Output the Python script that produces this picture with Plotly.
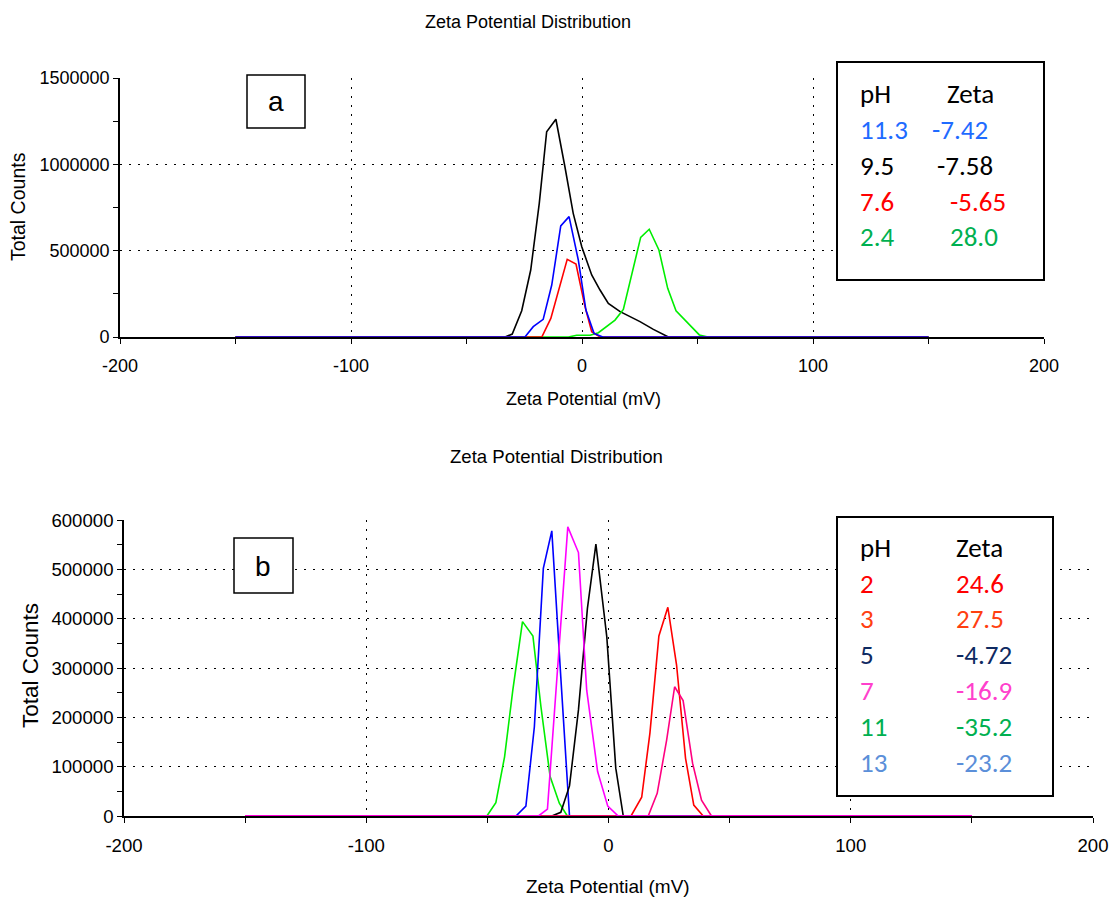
import plotly.graph_objects as go

# ---------------- data: panel a ----------------
a_black_x = [-150, -33.3, -30.2, -26.1, -22.2, -18.5, -15.3, -11.3, -7.4, -3.8, -0.1, 4.2, 7.8, 11.4, 16.5, 25.1, 30.9, 37.4, 150]
a_black_y = [0, 0, 17000, 152000, 388000, 774000, 1189000, 1261000, 986000, 716000, 523000, 359000, 272000, 195000, 147000, 89000, 44000, 0, 0]

a_blue_x = [-150, -24.7, -21.1, -16.8, -13.1, -9.2, -5.6, -1.6, 1.7, 5.2, 9.0, 150]
a_blue_y = [0, 0, 60000, 102000, 301000, 643000, 697000, 446000, 156000, 21000, 0, 0]

a_red_x = [-150, -17.4, -13.5, -6.4, -2.6, 1.3, 4.2, 7.8, 150]
a_red_y = [0, 0, 108000, 450000, 423000, 176000, 31000, 0, 0]

a_green_x = [-150, -5.9, -2.3, 3.5, 7.1, 14.3, 17.9, 25.4, 29.1, 33.3, 37.1, 40.7, 50.8, 54.5, 150]
a_green_y = [0, 0, 10000, 10000, 25000, 98000, 160000, 577000, 624000, 504000, 282000, 152000, 12000, 0, 0]

a_ph = ["11.3", "9.5", "7.6", "2.4"]
a_zeta = ["-7.42", "-7.58", "-5.65", "28.0"]

# ---------------- data: panel b ----------------
b_green_x = [-150, -50.2, -46.5, -42.9, -39.5, -35.5, -31.2, -27.9, -24.1, -20.3, -17.0, 150]
b_green_y = [0, 0, 27000, 120000, 255000, 394000, 365000, 222000, 80000, 26000, 0, 0]

b_blue_x = [-150, -38.2, -34.1, -30.6, -26.9, -23.4, -19.7, -16.1, 150]
b_blue_y = [0, 0, 20000, 181000, 502000, 578000, 282000, 0, 0]

b_black_x = [-150, -23.4, -19.7, -16.1, -12.4, -8.7, -5.2, -0.7, 3.0, 6.1, 150]
b_black_y = [0, 0, 7500, 61000, 215000, 421000, 551000, 363000, 97000, 0, 0]

b_red_x = [-150, 9.3, 13.7, 17.1, 20.8, 24.5, 28.1, 31.8, 35.2, 39.1, 150]
b_red_y = [0, 0, 38000, 168000, 365000, 423000, 306000, 117000, 22000, 0, 0]

b_pink_x = [-150, 16.4, 20.1, 24.0, 27.3, 30.8, 34.7, 38.4, 42.5, 150]
b_pink_y = [0, 0, 46000, 154000, 262000, 234000, 107000, 32000, 0, 0]

b_magenta_x = [-150, -28.9, -25.2, -21.1, -16.8, -12.4, -9.0, -4.5, -0.3, 4.0, 150]
b_magenta_y = [0, 0, 14000, 296000, 586000, 534000, 255000, 90000, 20000, 0, 0]

b_ph = ["2", "3", "5", "7", "11", "13"]
b_zeta = ["24.6", "27.5", "-4.72", "-16.9", "-35.2", "-23.2"]

x_tickvals = [-200, -100, 0, 100, 200]
x_ticktext = ["-200", "-100", "0", "100", "200"]

# ---------------- styling ----------------
W, H = 1111, 898
def fx(px):
    return px / W
def fy(py):
    return 1 - py / H

ARIAL = "Liberation Sans, Arial, sans-serif"
LEG_FONT = "Carlito, Lato, Calibri, sans-serif"

fig = go.Figure()

def add_line(x, y, color, xa, ya):
    fig.add_trace(go.Scatter(x=x, y=y, mode="lines", line=dict(color=color, width=1.6),
                             xaxis=xa, yaxis=ya, showlegend=False, hoverinfo="skip"))

add_line(a_black_x, a_black_y, "#000000", "x", "y")
add_line(a_green_x, a_green_y, "#00EE00", "x", "y")
add_line(a_red_x, a_red_y, "#FF0000", "x", "y")
add_line(a_blue_x, a_blue_y, "#0000FF", "x", "y")

add_line(b_green_x, b_green_y, "#00EE00", "x2", "y2")
add_line(b_blue_x, b_blue_y, "#0000FF", "x2", "y2")
add_line(b_black_x, b_black_y, "#000000", "x2", "y2")
add_line(b_red_x, b_red_y, "#FF0000", "x2", "y2")
add_line(b_pink_x, b_pink_y, "#FF0080", "x2", "y2")
add_line(b_magenta_x, b_magenta_y, "#FF00FF", "x2", "y2")

grid = dict(showgrid=True, gridcolor="black", griddash="2px,7px", gridwidth=1.3)

def xaxis(domain, anchor, fs):
    f = dict(family=ARIAL, size=fs, color="black")
    return dict(domain=domain, anchor=anchor, range=[-200, 200],
                tickmode="array", tickvals=x_tickvals, ticktext=x_ticktext,
                showline=True, linecolor="black", linewidth=1.6, ticks="outside", ticklen=5,
                tickwidth=1.3, tickcolor="black", minor=dict(ticks="outside", dtick=50, tick0=0, ticklen=5,
                tickwidth=1.3, tickcolor="black", showgrid=False),
                tickfont=f, automargin=False, ticklabelstandoff=7,
                zeroline=False, layer="below traces", **grid)

def yaxis(domain, anchor, rng, dtick, mdtick, fs):
    f = dict(family=ARIAL, size=fs, color="black")
    return dict(domain=domain, anchor=anchor, range=rng, dtick=dtick, tick0=0,
                showline=True, linecolor="black", linewidth=1.6, ticks="outside", ticklen=5,
                tickwidth=1.3, tickcolor="black", minor=dict(ticks="outside", dtick=mdtick, ticklen=5,
                tickwidth=1.3, tickcolor="black", showgrid=False), automargin=False,
                tickformat="d", tickfont=f, zeroline=False, layer="below traces", **grid)

def inner_x(over, anchor):
    return dict(overlaying=over, anchor=anchor, range=[-200, 200], dtick=100, tick0=0,
                showline=False, showgrid=False, zeroline=False, showticklabels=False,
                ticks="inside", ticklen=4, tickwidth=1.3, tickcolor="black", automargin=False,
                minor=dict(ticks="inside", dtick=50, ticklen=4, tickwidth=1.3, tickcolor="black"))

def inner_y(over, anchor, rng, dtick, mdtick):
    return dict(overlaying=over, anchor=anchor, range=rng, dtick=dtick, tick0=0,
                showline=False, showgrid=False, zeroline=False, showticklabels=False,
                ticks="inside", ticklen=5, tickwidth=1.3, tickcolor="black", automargin=False,
                minor=dict(ticks="inside", dtick=mdtick, ticklen=5, tickwidth=1.3, tickcolor="black"))

fig.update_layout(
    width=W, height=H, margin=dict(l=0, r=0, t=0, b=0, autoexpand=False),
    paper_bgcolor="white", plot_bgcolor="white",
    xaxis=xaxis([fx(120), fx(1044)], "y", 18),
    yaxis=yaxis([fy(337), fy(78)], "x", [0, 1500000], 500000, 250000, 18),
    xaxis2=xaxis([fx(124), fx(1093)], "y2", 18.6),
    yaxis2=yaxis([fy(816), fy(520)], "x2", [0, 600000], 100000, 50000, 18.6),
    xaxis3=inner_x("x", "y"),
    yaxis3=inner_y("y", "x", [0, 1500000], 500000, 250000),
    xaxis4=inner_x("x2", "y2"),
    yaxis4=inner_y("y2", "x2", [0, 600000], 100000, 50000),
)

ann = []
def text(px, py, s, size=13, color="black", family=ARIAL, xanchor="center", textangle=0):
    ann.append(dict(x=fx(px), y=fy(py), xref="paper", yref="paper", text=s, showarrow=False,
                    xanchor=xanchor, yanchor="middle", textangle=textangle,
                    font=dict(family=family, size=size, color=color)))

# titles
text(528, 22, "Zeta Potential Distribution", size=18)
text(556, 457, "Zeta Potential Distribution", size=18.6)
text(18, 207, "Total Counts", size=19.5, textangle=-90)
text(30, 666, "Total Counts", size=22.5, textangle=-90)
text(583, 399, "Zeta Potential (mV)", size=18)
text(608, 886, "Zeta Potential (mV)", size=19)

shapes = []
def rect(x0, y0, x1, y1, w=1.5):
    shapes.append(dict(type="rect", xref="paper", yref="paper", x0=fx(x0), x1=fx(x1),
                       y0=fy(y1), y1=fy(y0), line=dict(color="black", width=w),
                       fillcolor="white", layer="above"))

# panel labels
rect(247, 75, 305, 128)
text(276, 102, "a", size=28)
rect(234, 538, 293, 593)
text(263, 566, "b", size=28)

LS = 27
# legend a
rect(837, 62, 1044, 280, 2)
a_cols = ["#1F6BFF", "#000000", "#FF0000", "#00B050"]
a_zx = [930, 935, 948, 948]
text(858, 93, "pH", size=LS, family=LEG_FONT, xanchor="left")
text(945, 93, "Zeta", size=LS, family=LEG_FONT, xanchor="left")
for i, (p, z) in enumerate(zip(a_ph, a_zeta)):
    yy = 129 + 36 * i
    text(858, yy, p, size=LS, color=a_cols[i], family=LEG_FONT, xanchor="left")
    text(a_zx[i], yy, z, size=LS, color=a_cols[i], family=LEG_FONT, xanchor="left")

# legend b
rect(837, 517, 1053, 796, 2)
b_cols = ["#FF0000", "#FF4010", "#0E2A62", "#FF40CC", "#00B050", "#5B8FD9"]
text(858, 547, "pH", size=LS, family=LEG_FONT, xanchor="left")
text(954, 547, "Zeta", size=LS, family=LEG_FONT, xanchor="left")
for i, (p, z) in enumerate(zip(b_ph, b_zeta)):
    yy = 583 + 35.8 * i
    text(858, yy, p, size=LS, color=b_cols[i], family=LEG_FONT, xanchor="left")
    text(954, yy, z, size=LS, color=b_cols[i], family=LEG_FONT, xanchor="left")

fig.update_layout(annotations=ann, shapes=shapes)
fig.write_html("out.html", config={"displayModeBar": False},
               post_script="document.body.style.margin='0px';document.body.style.overflow='hidden';")
